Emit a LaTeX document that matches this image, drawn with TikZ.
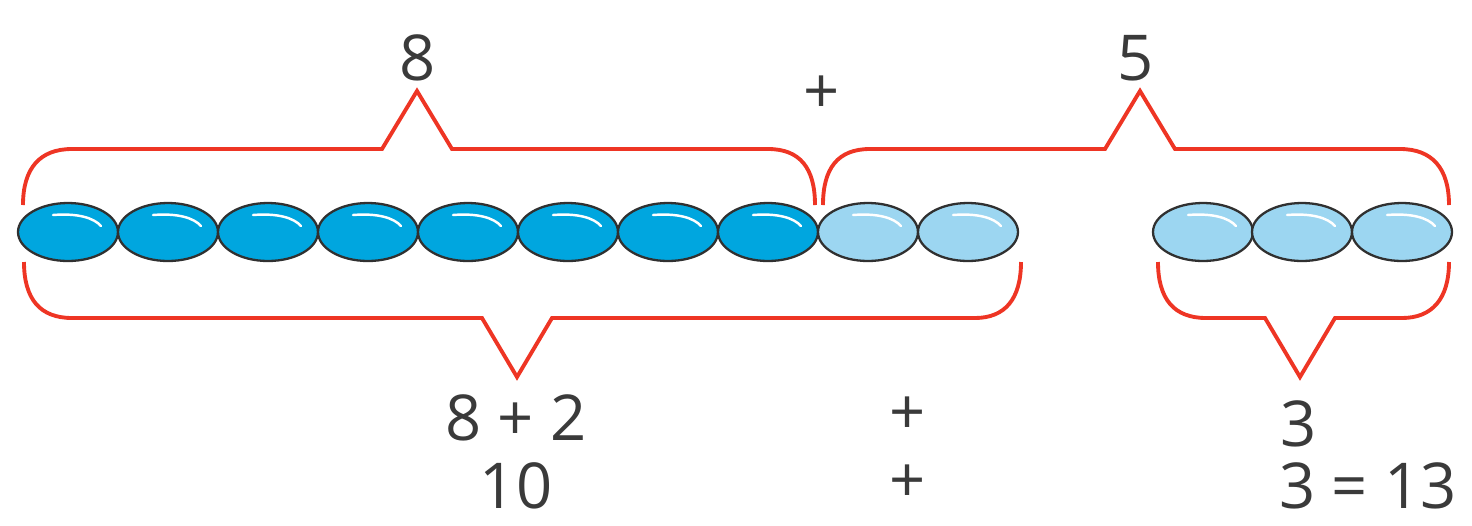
\documentclass[tikz,border=0pt]{standalone}
\usepackage{fontspec}
\setmainfont{Open Sans}
\usetikzlibrary{shapes.geometric}
\definecolor{bdark}{HTML}{00A6DF}
\definecolor{blight}{HTML}{9CD6F1}
\definecolor{bline}{HTML}{303030}
\definecolor{bracered}{HTML}{EE3524}
\definecolor{txt}{HTML}{3A3A3A}
\tikzset{
  bead/.style={ellipse, draw=bline, line width=1.3pt, minimum width=2cm, minimum height=1.16cm, inner sep=0pt},
  darkbead/.style={bead, fill=bdark},
  lightbead/.style={bead, fill=blight},
  brace/.style={draw=bracered, line width=2.2pt, line join=miter},
  lbl/.style={text=txt, font=\fontsize{36}{40}\selectfont, inner sep=0pt, anchor=base},
}
\begin{document}
\begin{tikzpicture}[x=0.02cm, y=-0.02cm]
\useasboundingbox (0,0) rectangle (1472,525);
% beads
\foreach \i in {1,...,8} {
  \node[darkbead] (d\i) at ({68+100*(\i-1)}, 232) {};
}
\node[lightbead] (l1) at (868,232) {};
\node[lightbead] (l2) at (968,232) {};
\node[lightbead] (r1) at (1203,232) {};
\node[lightbead] (r2) at (1302,232) {};
\node[lightbead] (r3) at (1402,232) {};
% highlights
\foreach \n in {d1,d2,d3,d4,d5,d6,d7,d8,l1,l2,r1,r2,r3} {
  \draw[white, line width=1.4pt, line cap=round] ([shift={(-15,-17)}]\n.center) .. controls ([shift={(10,-19)}]\n.center) and ([shift={(26,-14)}]\n.center) .. ([shift={(33,-6)}]\n.center);
}
% top braces
\draw[brace] (23,205) .. controls (23,168) and (40,149) .. (72,149) -- (382,149) -- (417,91) -- (452,149) -- (768,149) .. controls (800,149) and (815,168) .. (815,205);
\draw[brace] (823,205) .. controls (823,168) and (838,149) .. (870,149) -- (1105,149) -- (1140,91) -- (1175,149) -- (1400,149) .. controls (1432,149) and (1449,168) .. (1449,205);
% bottom braces
\draw[brace] (24,262) .. controls (24,299) and (40,318) .. (72,318) -- (482,318) -- (517,377) -- (552,318) -- (975,318) .. controls (1005,318) and (1021,299) .. (1021,262);
\draw[brace] (1158,262) .. controls (1158,299) and (1174,318) .. (1206,318) -- (1265,318) -- (1300,377) -- (1335,318) -- (1402,318) .. controls (1432,318) and (1449,299) .. (1449,262);
% labels
\node[lbl] (t8) at (418,80) {8};
\node[lbl] (tp) at (822,113) {+};
\node[lbl] (t5) at (1136,80) {5};
\node[lbl] (b82) at (516,440) {8 + 2};
\node[lbl] (bp1) at (908,434) {+};
\node[lbl] (b3) at (1299,446) {3};
\node[lbl] (b10) at (516,508) {10};
\node[lbl] (bp2) at (908,502) {+};
\node[lbl, anchor=base west] (b313) at (1279,508) {3 = 13};
\end{tikzpicture}
\end{document}
